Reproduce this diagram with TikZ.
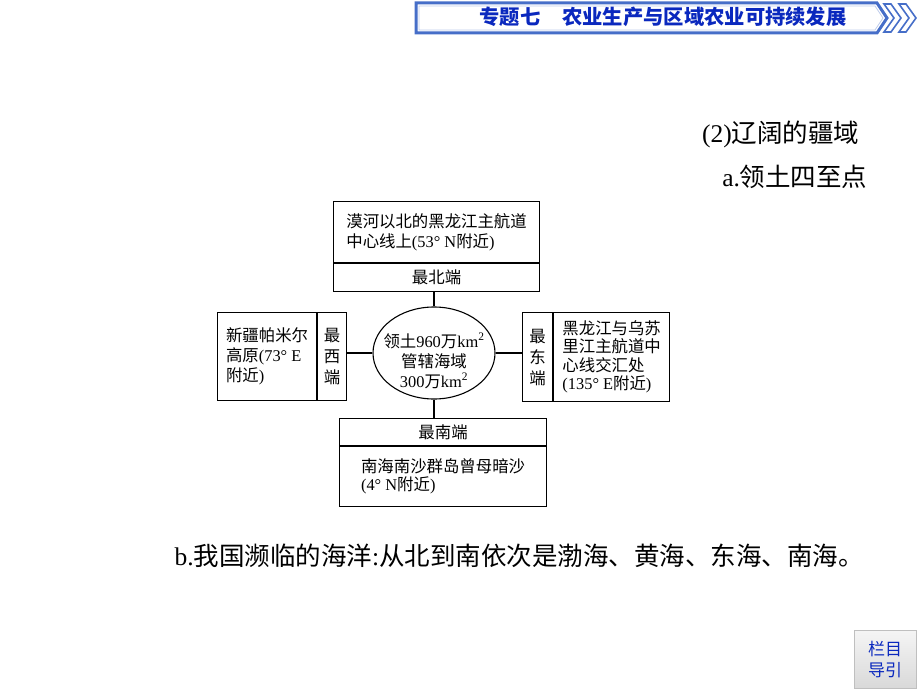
\documentclass[tikz,border=0pt]{standalone}
\usepackage{fontspec}
\setmainfont{Liberation Serif}
\newfontfamily\cjk{Noto Sans CJK SC}
\usetikzlibrary{shapes.geometric,positioning}
\newcommand{\zh}[1]{{\cjk #1}}
\definecolor{titleblue}{RGB}{10,40,190}
\definecolor{frameblue}{RGB}{70,110,200}

\begin{document}
\begin{tikzpicture}[x=1pt,y=-1pt,
    part/.style={draw,line width=1.1pt,inner sep=0pt,align=left,
        font={\fontsize{16.4}{20}\selectfont}},
    ends/.style={part,align=center},
    link/.style={line width=1.1pt},
    bigtext/.style={font={\fontsize{25.5}{25.5}\selectfont}},
    ]

    \useasboundingbox (0,0) rectangle (920,690);

    % title bar
    \draw[frameblue,line width=3pt,fill=white] (416,3) -- (877,3) -- (887,18) -- (877,33) -- (416,33) -- cycle;
    \draw[frameblue!35,line width=0.8pt] (419,6) -- (875,6) -- (883,18) -- (875,30) -- (419,30) -- cycle;
    \foreach \x in {884,899}
        \draw[frameblue,line width=1.6pt,fill=white,line join=miter]
            (\x,4) -- (\x+7,4) -- (\x+17,18) -- (\x+7,32) -- (\x,32) -- (\x+10,18) -- cycle;
    \node[text=titleblue,font={\cjk\bfseries\fontsize{20.3}{20.3}\selectfont}] (title) at (663,17)
        {专题七\hspace{22pt}农业生产与区域农业可持续发展};

    \node[bigtext,anchor=east] (head2) at (863,134) {(2)\zh{辽阔的疆域}};
    \node[bigtext,anchor=east] (heada) at (871,177) {a.\zh{领土四至点}};

    % north
    \node[part,minimum width=206pt,minimum height=61pt,anchor=north west] (nbox) at (333,201)
        {\zh{漠河以北的黑龙江主航道}\\\zh{中心线上}(53° N\zh{附近})};
    \node[ends,minimum width=206pt,minimum height=28pt,below=0pt of nbox] (nend) {\zh{最北端}};

    % centre
    \node[draw,ellipse,line width=1.1pt,minimum width=122pt,minimum height=92pt] (core) at (434,353) {};
    \node[align=center,inner sep=0pt,font={\fontsize{16.4}{20}\selectfont}] (coretext) at ([yshift=-8pt]core.center)
        {\zh{领土}960\zh{万}km\textsuperscript{2}\\\zh{管辖海域}\\300\zh{万}km\textsuperscript{2}};

    % west
    \node[part,minimum width=99pt,minimum height=88pt,anchor=north west] (wbox) at (217,312)
        {\zh{新疆帕米尔}\\\zh{高原}(73° E\\\zh{附近})};
    \node[ends,minimum width=29pt,minimum height=88pt,right=0pt of wbox,
        font={\fontsize{16.4}{21}\selectfont}] (wend) {\zh{最}\\\zh{西}\\\zh{端}};

    % east
    \node[ends,minimum width=30pt,minimum height=89pt,anchor=north west,
        font={\fontsize{16.4}{21}\selectfont}] (eend) at (522,312) {\zh{最}\\\zh{东}\\\zh{端}};
    \node[part,minimum width=116pt,minimum height=89pt,right=0pt of eend,
        font={\fontsize{16.4}{18.5}\selectfont}] (ebox)
        {\zh{黑龙江与乌苏}\\\zh{里江主航道中}\\\zh{心线交汇处}\\(135° E\zh{附近})};

    % south
    \node[ends,minimum width=207pt,minimum height=27pt,anchor=north west] (send) at (339,418) {\zh{最南端}};
    \node[part,minimum width=207pt,minimum height=60pt,below=0pt of send,
        font={\fontsize{16.4}{18}\selectfont}] (sbox)
        {\zh{南海南沙群岛曾母暗沙}\\(4° N\zh{附近})};

    \draw[link] (core.north) -- (core.north |- nend.south);
    \draw[link] (core.south) -- (core.south |- send.north);
    \draw[link] (core.west) -- (core.west -| wend.east);
    \draw[link] (core.east) -- (core.east -| eend.west);

    \node[bigtext,anchor=west] (seas) at (171,556)
        {b.\zh{我国濒临的海洋}:\zh{从北到南依次是渤海、黄海、东海、南海。}};

    % button
    \node[draw=gray!50,top color=gray!8,bottom color=gray!30,minimum width=62pt,minimum height=58pt,
        anchor=north west,align=center,text=titleblue,
        font={\cjk\fontsize{17}{21}\selectfont}] (guide) at (854,630) {栏目\\导引};
\end{tikzpicture}
\end{document}
